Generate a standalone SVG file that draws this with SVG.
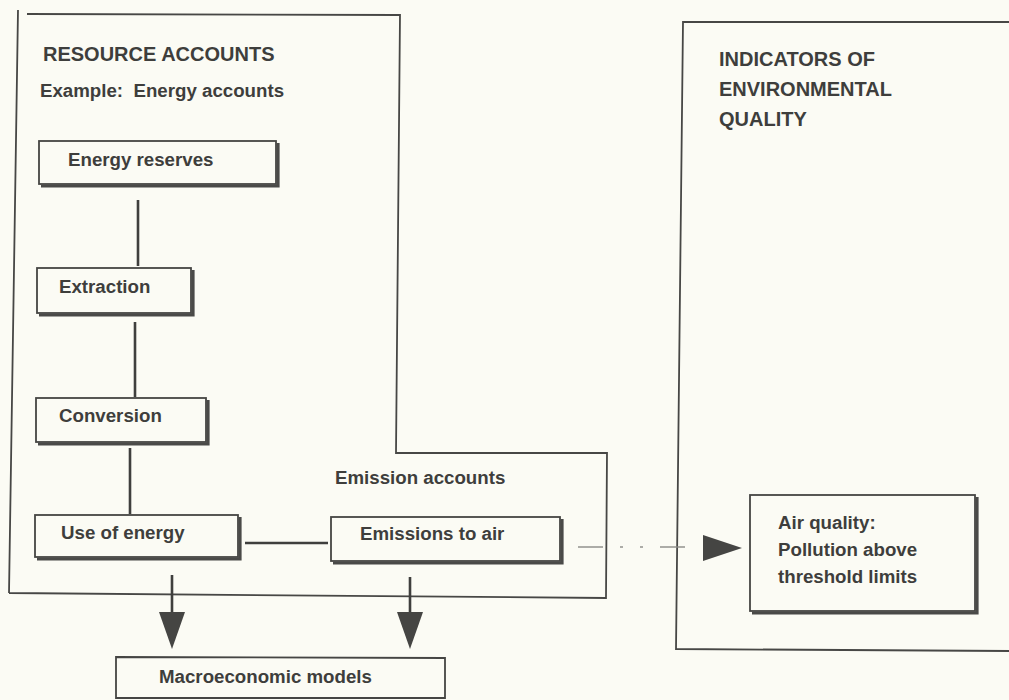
<svg xmlns="http://www.w3.org/2000/svg" width="1009" height="700" viewBox="0 0 1009 700">
  <style>
    .frame { fill: none; stroke: #474745; stroke-width: 1.8; stroke-linejoin: miter; }
    .box { fill: none; stroke: #454543; stroke-width: 1.8; }
    .shadow { fill: none; stroke: #4a4a48; stroke-width: 3.2; }
    .link { fill: none; stroke: #3f3f3d; stroke-width: 2.6; }
    .dash { fill: none; stroke: #8a8a86; stroke-width: 1.4; }
    .head { fill: #454543; }
    .title { font-family: "Liberation Sans", Arial, sans-serif; font-weight: bold; font-size: 20px; fill: #3e3e3c; white-space: pre; }
    .label { font-family: "Liberation Sans", Arial, sans-serif; font-weight: bold; font-size: 18.7px; fill: #3e3e3c; white-space: pre; }
  </style>
  <rect width="1009" height="700" fill="#fbfbf4"/>

  <!-- Resource accounts / emission accounts frame -->
  <g id="resource-accounts">
    <path class="frame" d="M18 10 L9 593 M27 14 L400 15 L396 453 L607 453 L606 598 L9 593"/>
    <text class="title" x="43" y="61">RESOURCE ACCOUNTS</text>
    <text class="label" x="40" y="97" xml:space="preserve">Example:  Energy accounts</text>
    <text class="label" x="335" y="484">Emission accounts</text>
  </g>

  <!-- Indicators of environmental quality frame -->
  <g id="indicators">
    <path class="frame" d="M1009 22 L683 22 L676 649 L1009 651"/>
    <text class="title" x="719" y="66">INDICATORS OF</text>
    <text class="title" x="719" y="96">ENVIRONMENTAL</text>
    <text class="title" x="719" y="126">QUALITY</text>
  </g>

  <g id="energy-reserves">
    <rect class="box" x="39" y="141" width="237" height="43"/>
    <polyline class="shadow" points="278,143 278,186 41,186"/>
    <text class="label" x="68" y="166">Energy reserves</text>
  </g>

  <g id="extraction">
    <rect class="box" x="37" y="268" width="154" height="45"/>
    <polyline class="shadow" points="193,270 193,315 39,315"/>
    <text class="label" x="59" y="293">Extraction</text>
  </g>

  <g id="conversion">
    <rect class="box" x="36" y="398" width="170" height="44"/>
    <polyline class="shadow" points="208,400 208,444 38,444"/>
    <text class="label" x="59" y="422">Conversion</text>
  </g>

  <g id="use-of-energy">
    <rect class="box" x="35" y="515" width="203" height="42"/>
    <polyline class="shadow" points="240,517 240,559 37,559"/>
    <text class="label" x="61" y="539">Use of energy</text>
  </g>

  <g id="emissions-to-air">
    <rect class="box" x="331" y="517" width="229" height="44"/>
    <polyline class="shadow" points="562,519 562,563 333,563"/>
    <text class="label" x="360" y="540">Emissions to air</text>
  </g>

  <g id="air-quality">
    <rect class="box" x="750" y="495" width="225" height="116"/>
    <polyline class="shadow" points="977,497 977,613 752,613"/>
    <text class="label" x="778" y="529">Air quality:</text>
    <text class="label" x="778" y="556">Pollution above</text>
    <text class="label" x="778" y="583">threshold limits</text>
  </g>

  <g id="macroeconomic-models">
    <path class="box" d="M116 698 L116 657 L445 658 L445 698 Z"/>
    <text class="label" x="159" y="683">Macroeconomic models</text>
  </g>

  <!-- Connectors -->
  <g id="connectors">
    <line class="link" x1="138" y1="200" x2="138" y2="266"/>
    <line class="link" x1="135" y1="322" x2="135" y2="397"/>
    <line class="link" x1="130" y1="448" x2="130" y2="514"/>
    <line class="link" x1="245" y1="543" x2="328" y2="543"/>

    <line class="link" x1="172" y1="575" x2="172" y2="614"/>
    <polygon class="head" points="159,612 185,612 172,649"/>
    <line class="link" x1="410" y1="577" x2="410" y2="614"/>
    <polygon class="head" points="397,612 423,612 410,649"/>

    <line class="dash" x1="578" y1="547" x2="603" y2="547"/>
    <line class="dash" x1="620" y1="547" x2="623" y2="547"/>
    <line class="dash" x1="640" y1="547" x2="643" y2="547"/>
    <line class="dash" x1="660" y1="547" x2="685" y2="547"/>
    <polygon class="head" points="703,535 742,548 703,561"/>
  </g>
</svg>
